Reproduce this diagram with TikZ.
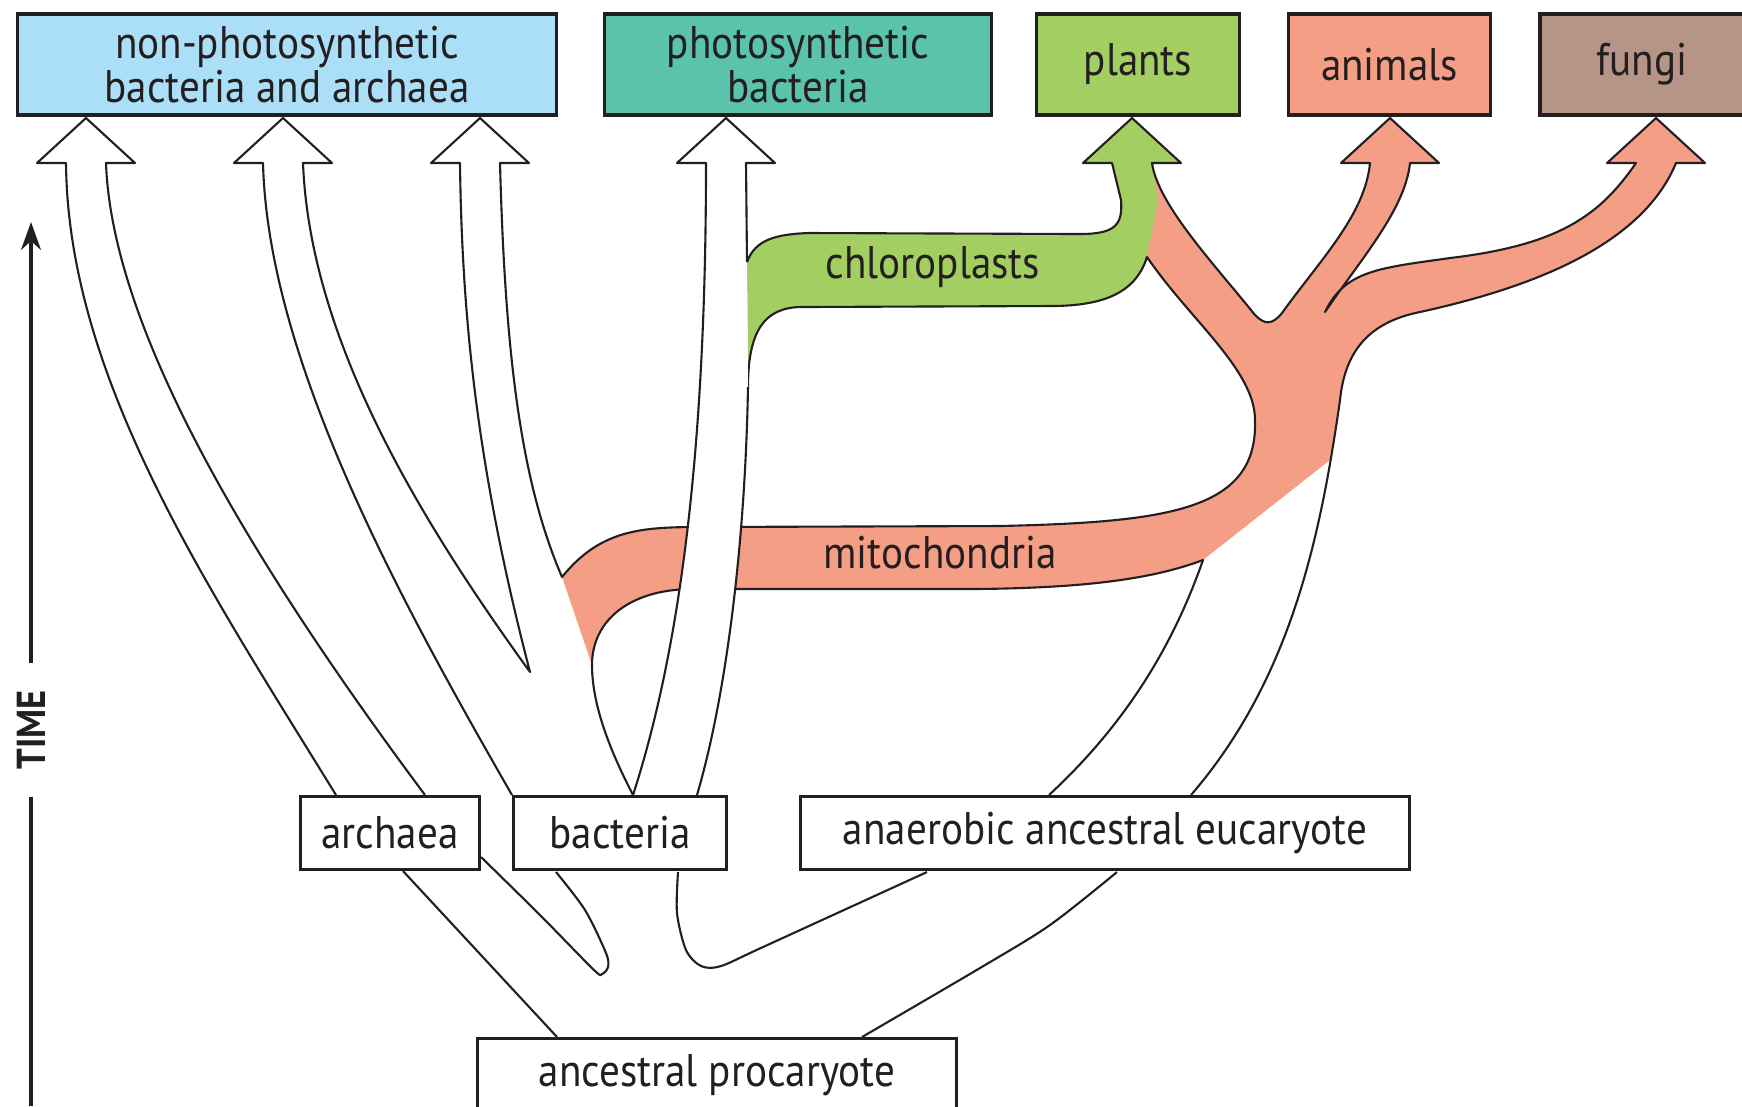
\documentclass[tikz,border=0pt]{standalone}
\usepackage{fontspec}
\setmainfont{PT Sans}[FakeStretch=0.9]
\usetikzlibrary{arrows.meta}
\definecolor{archblue}{HTML}{AADFF7}
\definecolor{photeal}{HTML}{5BC2AB}
\definecolor{chlorogreen}{HTML}{A3CE62}
\definecolor{mitosalmon}{HTML}{F59E86}
\definecolor{fungibrown}{HTML}{B79586}
\definecolor{inkdark}{HTML}{231F20}

% wide hollow arrow head with its tip at x=#1, just under the top row
\newcommand{\fathead}[1]{-- (#1-49,163) -- (#1,118) -- (#1+49,163) -- (#1+20,163)}
% pieces of outline shared by fills and strokes
\newcommand{\mitotop}{.. controls (600,530) and (640,527) .. (700,527) -- (1000,526)
  .. controls (1170,522) and (1258,510) .. (1255,420) .. controls (1255,370) and (1190,320) .. (1147,257)}
\newcommand{\chlorolow}{.. controls (1135,295) and (1100,306) .. (1050,306) -- (800,307)
  .. controls (765,308) and (748,330) .. (748,387)}
\newcommand{\chlorotop}{.. controls (755,240) and (775,234) .. (810,233) -- (1080,234)
  .. controls (1115,234) and (1123,225) .. (1121,200) -- (1112,163) \fathead{1132}}
\newcommand{\crown}{.. controls (1158,205) and (1215,265) .. (1255,315) .. controls (1265,325) and (1272,325) .. (1282,313)
  .. controls (1320,260) and (1365,215) .. (1370,163) \fathead{1390}
  .. controls (1405,210) and (1360,260) .. (1325,312) .. controls (1345,270) and (1380,268) .. (1450,258)
  .. controls (1560,245) and (1600,215) .. (1636,163) \fathead{1656}
  .. controls (1640,250) and (1520,290) .. (1420,312) .. controls (1370,322) and (1345,350) .. (1340,400)}
\newcommand{\mitolow}{.. controls (1150,580) and (1080,588) .. (975,589) -- (690,589)
  .. controls (630,590) and (592,620) .. (592,665)}

\begin{document}
\begin{tikzpicture}[x=0.1mm, y=-0.1mm,
    box/.style={draw=inkdark, line width=1pt, text=inkdark, align=center, inner sep=0pt,
      font=\fontsize{13}{12.5}\selectfont},
    topbox/.style={box, minimum height=10.1mm},
    lowbox/.style={box, fill=white, minimum height=7.3mm},
    edge/.style={draw=inkdark, line width=0.6pt, line join=round},
    lbl/.style={text=inkdark, font=\fontsize{13}{12.5}\selectfont}]
  \useasboundingbox (0,0) rectangle (1742,1106);

  % Fills
  \fill[mitosalmon] (562,577) \mitotop -- (1152,163) \crown -- (1330,460) -- (1203,560) \mitolow -- cycle;
  \fill[chlorogreen] (747,262) \chlorotop -- (1158,200) -- (1147,257) \chlorolow -- cycle;

  % Lineages
  \draw[edge] (336,795) .. controls (210,590) and (68,380) .. (66,163) \fathead{86}
    .. controls (112,330) and (250,560) .. (425,795);
  \draw[edge] (512,795) .. controls (400,600) and (268,360) .. (263,163) \fathead{283}
    .. controls (310,340) and (420,520) .. (530,672) .. controls (480,480) and (462,330) .. (460,163) \fathead{480}
    .. controls (505,350) and (520,480) .. (562,577) \mitotop \chlorolow;
  \draw[edge] (747,262) \chlorotop \crown .. controls (1320,540) and (1290,680) .. (1191,795);
  \draw[edge] (1049,795) .. controls (1130,720) and (1175,640) .. (1203,560) \mitolow
    .. controls (592,710) and (615,760) .. (633,795);

  % photosynthetic bacteria, over the mitochondria band
  \fill[white] (633,795) .. controls (680,650) and (706,450) .. (706,163) \fathead{726}
    -- (748,387) .. controls (745,550) and (725,700) .. (697,795) -- cycle;
  \draw[edge] (633,795) .. controls (680,650) and (706,450) .. (706,163) \fathead{726} -- (747,262);
  \draw[edge] (748,387) .. controls (745,550) and (725,700) .. (697,795);

  % below the boxes
  \draw[edge] (403,871) -- (557,1037);
  \draw[edge] plot[smooth] coordinates {(481,857) (540,915) (594,970) (602,974) (608,967) (606,953) (585,910) (556,872)};
  \draw[edge] plot[smooth] coordinates {(678,872) (677,913) (686,950) (701,966) (721,966) (763,947) (927,872)};
  \draw[edge] plot[smooth] coordinates {(1117,872) (1050,925) (980,968) (862,1037)};

  % Boxes
  \node[topbox, fill=archblue, minimum width=53.9mm] (nonphoto) at (287,64.5) {non-photosynthetic\\bacteria and archaea};
  \node[topbox, fill=photeal, minimum width=38.7mm] (photo) at (798,64.5) {photosynthetic\\bacteria};
  \node[topbox, fill=chlorogreen, minimum width=20.3mm] (plants) at (1138,64.5) {plants};
  \node[topbox, fill=mitosalmon, minimum width=20.2mm] (animals) at (1389.5,64.5) {animals};
  \node[topbox, fill=fungibrown, minimum width=20.4mm] (fungi) at (1642,64.5) {fungi};
  \node[lowbox, minimum width=17.9mm] (archaea) at (390,833) {archaea};
  \node[lowbox, minimum width=21.3mm] (bacteria) at (620,833) {bacteria};
  \node[lowbox, minimum width=60.9mm] (eucaryote) at (1105,833) {anaerobic ancestral eucaryote};
  \node[lowbox, minimum width=47.9mm] (procaryote) at (717,1075) {ancestral procaryote};

  % Labels
  \node[lbl] (chloro) at (933,267) {chloroplasts};
  \node[lbl] (mito) at (940,553) {mitochondria};

  % Time axis
  \node[text=inkdark, font=\bfseries\fontsize{11.5}{12}\selectfont, rotate=90, inner xsep=2.7mm] (time) at (31,730) {TIME};
  \coordinate (timebot) at (31,1106);
  \coordinate (timetop) at (31,222);
  \draw[inkdark, line width=0.9pt] (timebot) -- (time.west);
  \draw[inkdark, line width=0.9pt, -{Stealth[length=2.8mm, width=2mm]}] (time.east) -- (timetop);
\end{tikzpicture}
\end{document}
